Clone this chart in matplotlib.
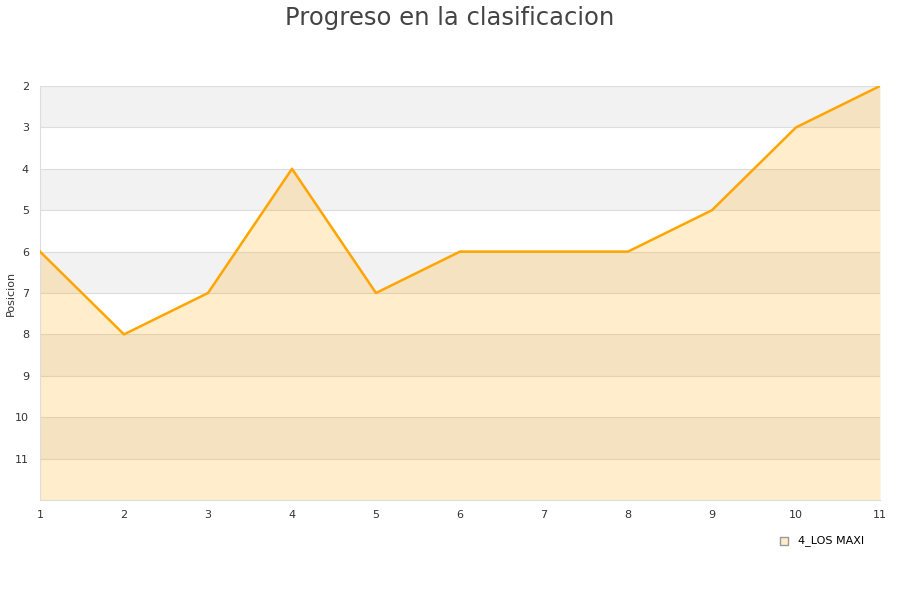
import matplotlib.pyplot as plt

# Jornadas and the team position after each one
jornadas = [1, 2, 3, 4, 5, 6, 7, 8, 9, 10, 11]
posicion = [6, 8, 7, 4, 7, 6, 6, 6, 5, 3, 2]
y_ticks = [2, 3, 4, 5, 6, 7, 8, 9, 10, 11]
equipo = "4_LOS MAXI"

fig = plt.figure(figsize=(9, 6), dpi=100)
ax = fig.add_axes([40 / 900, 100 / 600, 840 / 900, 414 / 600])

# alternating horizontal bands
for y in range(2, 12, 2):
    ax.axhspan(y, y + 1, color="#f2f2f2", zorder=0, lw=0)
for y in range(2, 13):
    ax.axhline(y, color="#dddddd", lw=0.8, zorder=1)

ax.fill_between(jornadas, posicion, 12, color="#ffa500", alpha=0.2, lw=0, zorder=2)
ax.plot(jornadas, posicion, color="#ffa500", lw=1.8, zorder=3)

ax.set_xlim(1, 11)
ax.set_ylim(12, 2)
ax.set_xticks(jornadas)
ax.set_yticks(y_ticks)
ax.tick_params(axis="both", length=0, labelsize=8, labelcolor="#333333")
ax.tick_params(axis="x", pad=7)
ax.tick_params(axis="y", pad=8)
for s in ["top", "right"]:
    ax.spines[s].set_visible(False)
for s in ["left", "bottom"]:
    ax.spines[s].set_color("#dddddd")

ax.set_ylabel("Posicion", fontsize=8, color="#333333")
ax.yaxis.set_label_coords(-24 / 840, 0.5)
fig.suptitle("Progreso en la clasificacion", fontsize=17.5, color="#444444", y=0.99)

# legend
ax.scatter([], [], marker="s", s=40, color="#ffedcc", edgecolor="#999999", label=equipo)
ax.legend(loc="upper right", bbox_to_anchor=(1 - 11 / 840, -0.075), frameon=False,
          fontsize=8, handletextpad=0.3, borderaxespad=0)

fig.savefig("out.png", dpi=100)
